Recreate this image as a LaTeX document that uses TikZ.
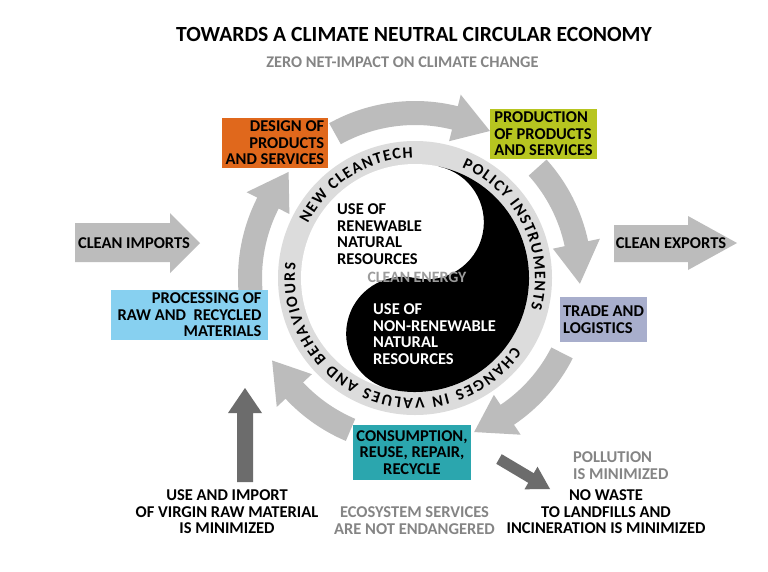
\documentclass[tikz,border=0pt]{standalone}
\usepackage{fontspec}
\setmainfont{Carlito}
\usetikzlibrary{decorations.text}
\definecolor{arrgray}{HTML}{BCBCBC}
\definecolor{ringgray}{HTML}{DCDCDC}
\definecolor{darkarr}{HTML}{6C6C6C}
\definecolor{txtgray}{HTML}{858585}
\definecolor{cegray}{HTML}{9C9C9C}
\definecolor{orangebox}{HTML}{E0681C}
\definecolor{greenbox}{HTML}{B7C520}
\definecolor{bluebox}{HTML}{87D0F0}
\definecolor{lavbox}{HTML}{A8AECC}
\definecolor{tealbox}{HTML}{2BA6AE}
% cycle arrow: start angle, head base angle, tip angle
\newcommand\cyclearrow[3]{%
  \fill[arrgray] (#1:153) arc[start angle=#1, end angle=#2, radius=153]
    -- (#2:141) -- (#3:165) -- (#2:189) -- (#2:177)
    arc[start angle=#2, end angle=#1, radius=177] -- cycle;}
\newcommand\ringfont{\bfseries\fontsize{16}{16}\selectfont}
\tikzset{
  lbl/.style={font=\bfseries\fontsize{16.5}{16.5}\selectfont, inner sep=0pt, align=center},
  boxnode/.style={lbl, inner sep=3pt, text=black},
  ringtext/.style={decorate, decoration={text along path, text align=fit to path, text={|\ringfont|#1}}}
}
\begin{document}
\begin{tikzpicture}[x=1pt,y=-1pt]
\useasboundingbox (0,0) rectangle (768,571);
\fill[white] (0,0) rectangle (768,571);

% title
\node[lbl, font=\bfseries\fontsize{21.6}{21.6}\selectfont] (title) at (414,34) {TOWARDS A CLIMATE NEUTRAL CIRCULAR ECONOMY};
\node[lbl, font=\bfseries\fontsize{16.3}{16.3}\selectfont, text=txtgray] (subtitle) at (402.5,62) {ZERO NET-IMPACT ON CLIMATE CHANGE};

\begin{scope}[shift={(415,278)}]
  % cycle arrows
  \cyclearrow{-119}{-76}{-63}
  \cyclearrow{-42}{-12}{2}
  \cyclearrow{27}{56}{69}
  \cyclearrow{113}{137}{150}
  \cyclearrow{174}{207}{220}
  % ring and disk
  \fill[ringgray] (0,0) circle[radius=137];
  \fill[white] (0,0) circle[radius=114];
  \begin{scope}[rotate=-12]
    \fill[black] (0,-114) arc[start angle=-90, end angle=90, radius=114]
      arc[start angle=90, end angle=270, radius=57]
      arc[start angle=90, end angle=-90, radius=57] -- cycle;
  \end{scope}
  % ring texts
  \path[ringtext={NEW CLEANTECH}] (-153:120) arc[start angle=-153, end angle=-91, radius=120];
  \path[ringtext={POLICY INSTRUMENTS}] (-67:120) arc[start angle=-67, end angle=15, radius=120];
  \path[ringtext={CHANGES IN VALUES AND BEHAVIOURS}] (35:120) arc[start angle=35, end angle=187, radius=120];
\end{scope}

% yin-yang texts
\node[lbl, align=left, anchor=north west] (renew) at (337,203.6) {USE OF\\RENEWABLE\\NATURAL\\RESOURCES};
\node[lbl, text=cegray, font=\bfseries\fontsize{15.8}{15.8}\selectfont] (energy) at (417,277) {CLEAN ENERGY};
\node[lbl, align=left, anchor=north west, text=white] (nonrenew) at (373,303.6) {USE OF\\NON-RENEWABLE\\NATURAL\\RESOURCES};

% boxes
\node[boxnode, fill=orangebox, minimum width=106pt, minimum height=50pt, align=right] (design) at (275,143) {DESIGN OF\\PRODUCTS\\AND SERVICES};
\node[boxnode, fill=greenbox, minimum width=107pt, minimum height=48pt, align=left] (production) at (543.5,134) {PRODUCTION\\OF PRODUCTS\\AND SERVICES};
\node[boxnode, fill=bluebox, minimum width=157pt, minimum height=47pt, align=right] (processing) at (189.5,315) {PROCESSING OF\\RAW AND~~RECYCLED\\MATERIALS};
\node[boxnode, fill=lavbox, minimum width=83pt, minimum height=45pt, align=left] (trade) at (603.5,319.5) {TRADE AND\\LOGISTICS};
\node[boxnode, fill=tealbox, minimum width=114pt, minimum height=55pt, align=center] (consumption) at (412,452.5) {CONSUMPTION,\\REUSE, REPAIR,\\RECYCLE};

% imports / exports
\fill[arrgray] (75,223) -- (170,223) -- (170,213) -- (200,243) -- (170,273) -- (170,262) -- (75,262) -- cycle;
\node[lbl] (imports) at (134,243) {CLEAN IMPORTS};
\fill[arrgray] (614,225) -- (688,225) -- (688,216) -- (737,243) -- (688,270) -- (688,262) -- (614,262) -- cycle;
\node[lbl] (exports) at (671,243) {CLEAN EXPORTS};

% dark arrows
\fill[darkarr] (237,482) -- (237,413) -- (228,413) -- (245,388) -- (262,413) -- (253,413) -- (253,482) -- cycle;
\fill[darkarr] (501.75,454.2) -- (533.75,473.2) -- (537.5,466.7) -- (550,489) -- (524.5,489.3) -- (528.25,482.8) -- (496.25,463.8) -- cycle;

% bottom texts
\node[lbl, anchor=north] (virgin) at (227,489.7) {USE AND IMPORT\\OF VIRGIN RAW MATERIAL\\IS MINIMIZED};
\node[lbl, anchor=north, text=txtgray] (eco) at (414.5,506.7) {ECOSYSTEM SERVICES\\ARE NOT ENDANGERED};
\node[lbl, anchor=north west, align=left, text=txtgray] (pollution) at (573,451.7) {POLLUTION\\IS MINIMIZED};
\node[lbl, anchor=north] (waste) at (606,489.7) {NO WASTE\\TO LANDFILLS AND\\INCINERATION IS MINIMIZED};
\end{tikzpicture}
\end{document}
